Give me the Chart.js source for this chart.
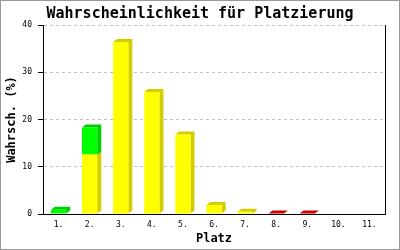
<!DOCTYPE html>
<html><head><meta charset="utf-8">
<script src="https://cdn.jsdelivr.net/npm/chart.js@4/dist/chart.umd.min.js"></script>
<style>html,body{margin:0;padding:0;background:#fff}</style>
</head><body>
<canvas id="c" width="400" height="250"></canvas>
<script>
const categories = ['1.', '2.', '3.', '4.', '5.', '6.', '7.', '8.', '9.', '10.', '11.'];
const yellowValues = [0, 12.6, 36.4, 25.8, 16.8, 1.9, 0.5, 0, 0, 0, 0];
const greenValues  = [0.9, 5.7, 0, 0, 0, 0, 0, 0, 0, 0, 0];
const redValues    = [0, 0, 0, 0, 0, 0, 0, 0.1, 0.1, 0, 0];
const yTicks = [0, 10, 20, 30, 40];

const MONO = "'DejaVu Sans Mono', monospace";

const frame = {
  id: 'frame',
  beforeDraw(chart) {
    const ctx = chart.ctx;
    ctx.save();
    ctx.fillStyle = '#fff';
    ctx.fillRect(0, 0, chart.width, chart.height);
    ctx.restore();
  },
  afterDraw(chart) {
    const ctx = chart.ctx;
    ctx.save();
    ctx.strokeStyle = '#999';
    ctx.lineWidth = 1;
    ctx.strokeRect(0.5, 0.5, chart.width - 1, chart.height - 1);
    ctx.restore();
  }
};

const depth3d = {
  id: 'depth3d',
  beforeDatasetsDraw(chart) {
    const ctx = chart.ctx;
    const dx = 4, dy = 3;
    chart.data.datasets.forEach((ds, i) => {
      const meta = chart.getDatasetMeta(i);
      meta.data.forEach((bar, j) => {
        const v = ds.data[j];
        if (!v) return;
        const p = bar.getProps(['x', 'y', 'base', 'width'], true);
        const l = p.x - p.width / 2, r = p.x + p.width / 2;
        const top = Math.min(p.y, p.base), bot = Math.max(p.y, p.base);
        ctx.save();
        ctx.fillStyle = ds.sideColor;
        ctx.beginPath();
        ctx.moveTo(l, top);
        ctx.lineTo(l + dx, top - dy);
        ctx.lineTo(r + dx, top - dy);
        ctx.lineTo(r + dx, bot - dy);
        ctx.lineTo(r, bot);
        ctx.lineTo(r, top);
        ctx.closePath();
        ctx.fill();
        ctx.restore();
      });
    });
  }
};

new Chart(document.getElementById('c'), {
  type: 'bar',
  data: {
    labels: categories,
    datasets: [
      { data: yellowValues, backgroundColor: '#ffff00', sideColor: '#d2ce00', borderWidth: 0 },
      { data: greenValues, backgroundColor: '#00ff00', sideColor: '#00cc00', borderWidth: 0 },
      { data: redValues, backgroundColor: '#ff0000', sideColor: '#cc0000', borderWidth: 0 }
    ]
  },
  options: {
    responsive: false,
    devicePixelRatio: 1,
    animation: false,
    events: [],
    layout: { padding: 0 },
    datasets: { bar: { categoryPercentage: 1, barPercentage: 0.49 } },
    plugins: {
      legend: { display: false },
      tooltip: { enabled: false },
      title: {
        display: true,
        text: 'Wahrscheinlichkeit für Platzierung',
        color: '#000',
        font: { family: MONO, size: 15, weight: 'bold' },
        padding: { top: 5, bottom: 2 }
      }
    },
    scales: {
      x: {
        stacked: true,
        grid: { display: false, drawTicks: false },
        border: { display: true, color: '#000', width: 1 },
        ticks: { color: '#000', font: { family: MONO, size: 8 }, padding: 6, maxRotation: 0, autoSkip: false },
        title: { display: true, text: 'Platz', color: '#000', font: { family: MONO, size: 12, weight: 'bold' }, padding: { top: 0, bottom: 4 } },
        afterFit(s) { s.height = 36; }
      },
      y: {
        stacked: true,
        min: 0, max: 40,
        afterBuildTicks(s) { s.ticks = yTicks.map(v => ({ value: v })); },
        grid: { color: '#c0c0c0', tickColor: '#000', tickLength: 5, drawTicks: true },
        border: { display: true, color: '#000', width: 1, dash: [3, 3] },
        ticks: { color: '#000', font: { family: MONO, size: 8 }, padding: 6 },
        title: { display: true, text: 'Wahrsch. (%)', color: '#000', font: { family: MONO, size: 12, weight: 'bold' }, padding: { top: 5, bottom: 0 } },
        afterFit(s) { s.width = 43; }
      },
      y2: {
        type: 'linear',
        position: 'right',
        min: 0, max: 40,
        grid: { display: false, drawTicks: false },
        border: { display: true, color: '#000', width: 1 },
        ticks: { display: false },
        afterFit(s) { s.width = 15; }
      }
    }
  },
  plugins: [frame, depth3d]
});
</script>
</body></html>
